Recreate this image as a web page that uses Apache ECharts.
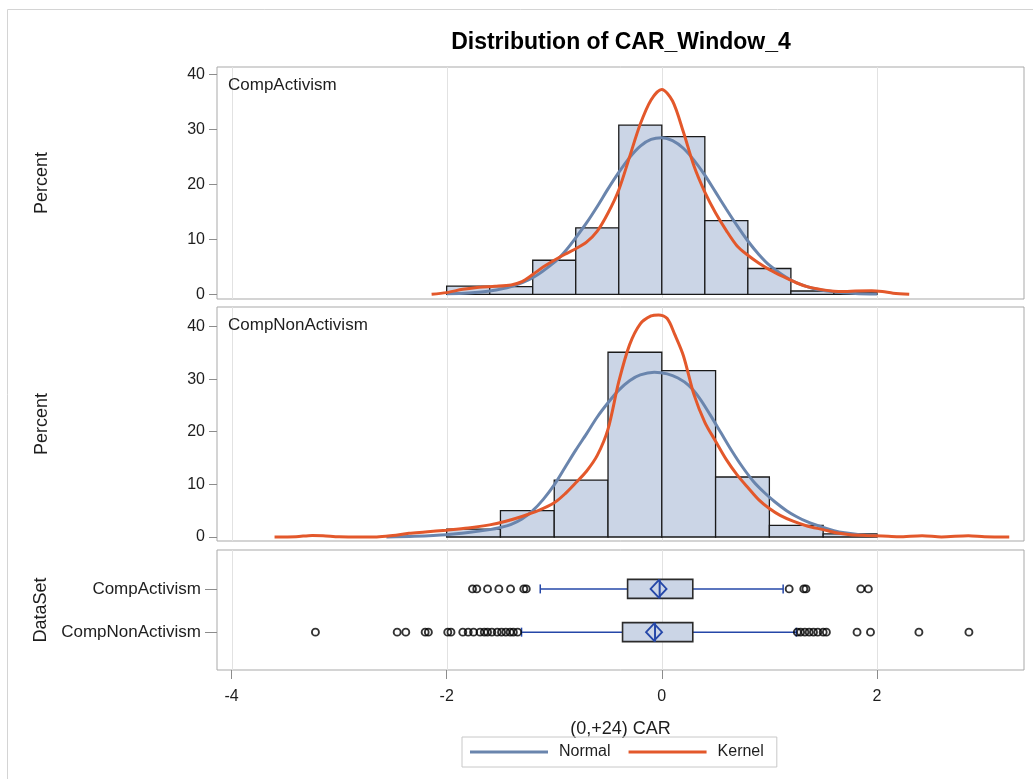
<!DOCTYPE html>
<html>
<head>
<meta charset="utf-8">
<script src="https://cdn.jsdelivr.net/npm/echarts@6/dist/echarts.min.js"></script>
<style>
  html, body { margin: 0; padding: 0; background: #fff; }
  #chart { width: 1033px; height: 779px; }
</style>
</head>
<body>
<div id="chart"></div>
<script>
// ---- data ----
const dataSets = ['CompActivism', 'CompNonActivism'];
const xTicks = [-4, -2, 0, 2];
const pctTicks = [0, 10, 20, 30, 40];

// histogram bins: edges and percent of observations per bin
const actEdges = [-2.0, -1.6, -1.2, -0.8, -0.4, 0.0, 0.4, 0.8, 1.2, 1.6, 2.0];
const actPct   = [1.5, 1.4, 6.2, 12.1, 30.8, 28.7, 13.4, 4.7, 0.6, 0.3];
const nonEdges = [-2.0, -1.5, -1.0, -0.5, 0.0, 0.5, 1.0, 1.5, 2.0];
const nonPct   = [1.5, 5.0, 10.8, 35.1, 31.6, 11.4, 2.2, 0.6];

// fitted density curves [CAR, percent]
const actNormal = [[-2.0,0.1],[-1.8,0.25],[-1.6,0.6],[-1.4,1.4],[-1.2,3.0],[-1.0,5.8],[-0.9,7.8],
  [-0.8,10.3],[-0.7,13.0],[-0.6,16.0],[-0.5,19.2],[-0.4,22.2],[-0.3,24.9],[-0.2,27.0],[-0.1,28.2],
  [0.0,28.5],[0.1,28.0],[0.2,26.6],[0.3,24.4],[0.4,21.7],[0.5,18.6],[0.6,15.5],[0.7,12.5],[0.8,9.7],
  [0.9,7.3],[1.0,5.3],[1.2,2.6],[1.4,1.1],[1.6,0.45],[1.8,0.15],[2.0,0.05]];
const actKernel = [[-2.14,0.0],[-2.0,0.3],[-1.85,0.9],[-1.7,1.3],[-1.55,1.45],[-1.4,1.7],[-1.3,2.3],
  [-1.2,3.6],[-1.1,5.0],[-1.0,6.2],[-0.9,7.3],[-0.8,8.3],[-0.7,9.5],[-0.6,11.5],[-0.5,14.8],
  [-0.4,19.0],[-0.3,25.0],[-0.2,31.0],[-0.1,35.4],[0.0,37.3],[0.1,35.2],[0.2,29.6],[0.3,23.3],
  [0.4,18.6],[0.5,14.8],[0.6,11.6],[0.7,8.8],[0.8,7.1],[0.9,5.7],[1.0,4.5],[1.13,3.2],[1.25,2.1],
  [1.35,1.4],[1.5,0.8],[1.6,0.55],[1.7,0.5],[1.8,0.6],[1.95,0.65],[2.05,0.5],[2.15,0.2],[2.3,0.0]];
const nonNormal = [[-2.56,0.0],[-2.3,0.15],[-2.0,0.45],[-1.8,0.85],[-1.6,1.4],[-1.5,1.8],[-1.4,2.4],
  [-1.3,3.4],[-1.2,5.0],[-1.1,7.2],[-1.0,9.9],[-0.9,13.2],[-0.8,16.5],[-0.7,19.6],[-0.6,22.8],
  [-0.5,25.5],[-0.4,27.9],[-0.3,29.7],[-0.2,30.8],[-0.07,31.3],[0.05,31.0],[0.15,30.2],[0.25,28.8],
  [0.35,26.4],[0.45,23.2],[0.55,19.8],[0.65,16.4],[0.75,13.3],[0.85,10.6],[0.95,8.5],[1.05,6.7],
  [1.16,5.0],[1.25,3.9],[1.35,2.9],[1.5,1.8],[1.6,1.2],[1.7,0.8],[1.84,0.45],[2.0,0.25]];
const nonKernel = [[-3.6,0.0],[-3.4,0.05],[-3.25,0.3],[-3.15,0.25],[-3.0,0.05],[-2.8,0.0],[-2.65,0.02],
  [-2.5,0.3],[-2.35,0.7],[-2.2,0.95],[-2.0,1.3],[-1.8,1.7],[-1.6,2.3],[-1.45,3.0],[-1.3,3.9],
  [-1.15,5.0],[-1.0,6.5],[-0.9,8.2],[-0.8,10.3],[-0.7,12.5],[-0.6,15.5],[-0.5,20.5],[-0.4,29.5],
  [-0.3,36.5],[-0.2,40.5],[-0.1,42.0],[-0.03,42.2],[0.05,41.5],[0.12,38.5],[0.2,34.5],[0.3,27.0],
  [0.4,21.8],[0.5,18.2],[0.6,14.7],[0.7,11.8],[0.8,9.4],[0.9,7.1],[1.0,5.4],[1.1,4.1],[1.22,3.0],
  [1.35,2.1],[1.5,1.4],[1.62,0.8],[1.75,0.45],[1.9,0.3],[2.05,0.2],[2.2,0.05],[2.42,0.25],[2.6,0.02],
  [2.85,0.25],[3.0,0.05],[3.23,0.0]];

// box plot statistics: [row, whisker low, Q1, median, Q3, whisker high, mean]
const boxStats = [
  [0, -1.13, -0.318, -0.02, 0.288, 1.128, -0.03],
  [1, -1.304, -0.365, -0.063, 0.288, 1.25, -0.072]
];
const actOutliers = [-1.76, -1.72, -1.62, -1.515, -1.406, -1.283, -1.26, 1.184, 1.32, 1.34, 1.85, 1.92];
const nonOutliers = [-3.22, -2.46, -2.38, -2.20, -2.17, -1.99, -1.96, -1.85, -1.80, -1.75, -1.69, -1.65,
  -1.62, -1.58, -1.53, -1.49, -1.45, -1.41, -1.38, -1.34, 1.26, 1.29, 1.33, 1.37, 1.41, 1.45, 1.50,
  1.53, 1.815, 1.94, 2.39, 2.855];

// ---- style ----
const FONT = 'Liberation Sans, Arial, sans-serif';
const TEXT = '#1e1e1e';
const BLUE_NORMAL = '#6a85ad';
const ORANGE_KERNEL = '#e3582b';
const BAR_FILL = '#cbd5e6';
const WHISKER = '#2547a8';
const FRAME = '#a9a9a9';
const GRIDLINE = '#e2e2e2';

function binsOf(edges, pct) {
  return pct.map((p, i) => [edges[i], edges[i + 1], p]);
}

function histRender(params, api) {
  const p0 = api.coord([api.value(0), 0]);
  const p1 = api.coord([api.value(1), api.value(2)]);
  return {
    type: 'rect',
    shape: { x: p0[0], y: p1[1], width: p1[0] - p0[0], height: p0[1] - p1[1] },
    style: { fill: BAR_FILL, stroke: '#1a1a1a', lineWidth: 1.3 }
  };
}

// vertical reference lines at the major x ticks, spanning the whole panel
function gridLineRender(params, api) {
  const cs = params.coordSys;
  const x = Math.round(api.coord([api.value(0), 0])[0]) + 0.5;
  return {
    type: 'line',
    shape: { x1: x, y1: cs.y, x2: x, y2: cs.y + cs.height },
    style: { stroke: GRIDLINE, lineWidth: 1 }
  };
}

function boxRender(params, api) {
  const row = api.value(0);
  const at = v => api.coord([v, row]);
  const lo = at(api.value(1)), q1 = at(api.value(2)), med = at(api.value(3));
  const q3 = at(api.value(4)), hi = at(api.value(5)), mean = at(api.value(6));
  const y = lo[1], half = 9.5, cap = 4.5, dw = 8, dh = 8.5;
  const wStyle = { stroke: WHISKER, lineWidth: 1.5 };
  return {
    type: 'group',
    children: [
      { type: 'line', shape: { x1: lo[0], y1: y, x2: q1[0], y2: y }, style: wStyle },
      { type: 'line', shape: { x1: q3[0], y1: y, x2: hi[0], y2: y }, style: wStyle },
      { type: 'line', shape: { x1: lo[0], y1: y - cap, x2: lo[0], y2: y + cap }, style: wStyle },
      { type: 'line', shape: { x1: hi[0], y1: y - cap, x2: hi[0], y2: y + cap }, style: wStyle },
      { type: 'rect', shape: { x: q1[0], y: y - half, width: q3[0] - q1[0], height: half * 2 },
        style: { fill: BAR_FILL, stroke: '#2b2b2b', lineWidth: 1.6 } },
      { type: 'line', shape: { x1: med[0], y1: y - half, x2: med[0], y2: y + half },
        style: { stroke: WHISKER, lineWidth: 2 } },
      { type: 'polygon',
        shape: { points: [[mean[0] - dw, y], [mean[0], y - dh], [mean[0] + dw, y], [mean[0], y + dh]] },
        style: { fill: 'none', stroke: WHISKER, lineWidth: 1.8 } }
    ]
  };
}

const grids = [
  { left: 217, right: 9, top: 67, height: 232 },
  { left: 217, right: 9, top: 307, height: 234 },
  { left: 217, right: 9, top: 550, height: 120 }
].map(g => Object.assign({ show: true, borderColor: FRAME, borderWidth: 1, backgroundColor: '#fff' }, g));

const xAxes = [0, 1, 2].map(i => ({
  type: 'value', gridIndex: i, min: -4.135, max: 3.367,
  axisLine: { show: false, onZero: false },
  splitLine: { show: false },
  axisTick: i === 2
    ? { show: true, customValues: xTicks, length: 9, lineStyle: { color: '#8c8c8c' } }
    : { show: false },
  axisLabel: i === 2
    ? { show: true, customValues: xTicks, fontSize: 16, color: TEXT, margin: 19, fontFamily: FONT }
    : { show: false },
  name: i === 2 ? '(0,+24) CAR' : '',
  nameLocation: 'middle', nameGap: 50,
  nameTextStyle: { fontSize: 18, color: TEXT, fontFamily: FONT }
}));

function pctAxis(gi, min, max) {
  return {
    type: 'value', gridIndex: gi, min: min, max: max,
    axisLine: { show: false, onZero: false }, splitLine: { show: false },
    axisTick: { show: true, customValues: pctTicks, length: 8, lineStyle: { color: '#8c8c8c' } },
    axisLabel: { customValues: pctTicks, fontSize: 16, color: TEXT, margin: 12, fontFamily: FONT },
    name: 'Percent', nameLocation: 'middle', nameRotate: 90, nameGap: 166,
    nameTextStyle: { fontSize: 18, color: TEXT, fontFamily: FONT }
  };
}

const yAxes = [
  pctAxis(0, -0.86, 41.4),
  pctAxis(1, -0.76, 43.7),
  {
    type: 'value', gridIndex: 2, min: -0.9, max: 1.875, inverse: true,
    axisLine: { show: false, onZero: false }, splitLine: { show: false },
    axisTick: { show: true, customValues: [0, 1], length: 12, lineStyle: { color: '#8c8c8c' } },
    axisLabel: { customValues: [0, 1], formatter: v => dataSets[v] || '', fontSize: 17,
      color: TEXT, margin: 16, fontFamily: FONT },
    name: 'DataSet', nameLocation: 'middle', nameRotate: 90, nameGap: 162,
    nameTextStyle: { fontSize: 18, color: TEXT, fontFamily: FONT }
  }
];

function curve(name, data, gi, color) {
  return {
    name: name, type: 'line', xAxisIndex: gi, yAxisIndex: gi, data: data,
    smooth: 0.3, showSymbol: false, silent: true,
    color: color, itemStyle: { color: color },
    lineStyle: { color: color, width: 3 }, z: 4
  };
}

function outliers(vals, row) {
  return {
    type: 'scatter', xAxisIndex: 2, yAxisIndex: 2, silent: true,
    data: vals.map(v => [v, row]),
    symbol: 'circle', symbolSize: 7,
    itemStyle: { color: 'rgba(0,0,0,0)', borderColor: '#000', borderWidth: 1.9 }, z: 3
  };
}

function gridLines(gi) {
  return { type: 'custom', xAxisIndex: gi, yAxisIndex: gi, renderItem: gridLineRender,
    data: xTicks.map(v => [v]), silent: true, z: 1 };
}

const chart = echarts.init(document.getElementById('chart'), null, { renderer: 'canvas' });
chart.setOption({
  animation: false,
  textStyle: { fontFamily: FONT },
  grid: grids,
  xAxis: xAxes,
  yAxis: yAxes,
  legend: {
    data: [{ name: 'Normal' }, { name: 'Kernel' }],
    left: 462, top: 737, orient: 'horizontal',
    icon: 'rect', itemWidth: 78, itemHeight: 3, itemGap: 18,
    padding: [7, 13, 7, 8], borderColor: '#c8c8c8', borderWidth: 1,
    textStyle: { fontSize: 16, color: TEXT, fontFamily: FONT, padding: [0, 0, 0, 6] }
  },
  graphic: [
    { type: 'rect', shape: { x: 7.5, y: 9.5, width: 1100, height: 1000 },
      style: { fill: 'none', stroke: '#d4d4d4', lineWidth: 1 }, silent: true, z: -10 },
    { type: 'text', x: 621, y: 43,
      style: { text: 'Distribution of CAR_Window_4', textAlign: 'center', textVerticalAlign: 'middle',
        font: 'bold 23px ' + FONT, fill: '#000' } },
    { type: 'text', x: 228, y: 85,
      style: { text: dataSets[0], textVerticalAlign: 'middle', font: '17px ' + FONT, fill: TEXT }, z: 10 },
    { type: 'text', x: 228, y: 325,
      style: { text: dataSets[1], textVerticalAlign: 'middle', font: '17px ' + FONT, fill: TEXT }, z: 10 }
  ],
  series: [
    gridLines(0), gridLines(1), gridLines(2),
    { type: 'custom', xAxisIndex: 0, yAxisIndex: 0, renderItem: histRender,
      data: binsOf(actEdges, actPct), silent: true, z: 2 },
    { type: 'custom', xAxisIndex: 1, yAxisIndex: 1, renderItem: histRender,
      data: binsOf(nonEdges, nonPct), silent: true, z: 2 },
    curve('Normal', actNormal, 0, BLUE_NORMAL),
    curve('Kernel', actKernel, 0, ORANGE_KERNEL),
    curve('Normal', nonNormal, 1, BLUE_NORMAL),
    curve('Kernel', nonKernel, 1, ORANGE_KERNEL),
    { type: 'custom', xAxisIndex: 2, yAxisIndex: 2, renderItem: boxRender,
      data: boxStats, silent: true, z: 2 },
    outliers(actOutliers, 0),
    outliers(nonOutliers, 1)
  ]
});
</script>
</body>
</html>
